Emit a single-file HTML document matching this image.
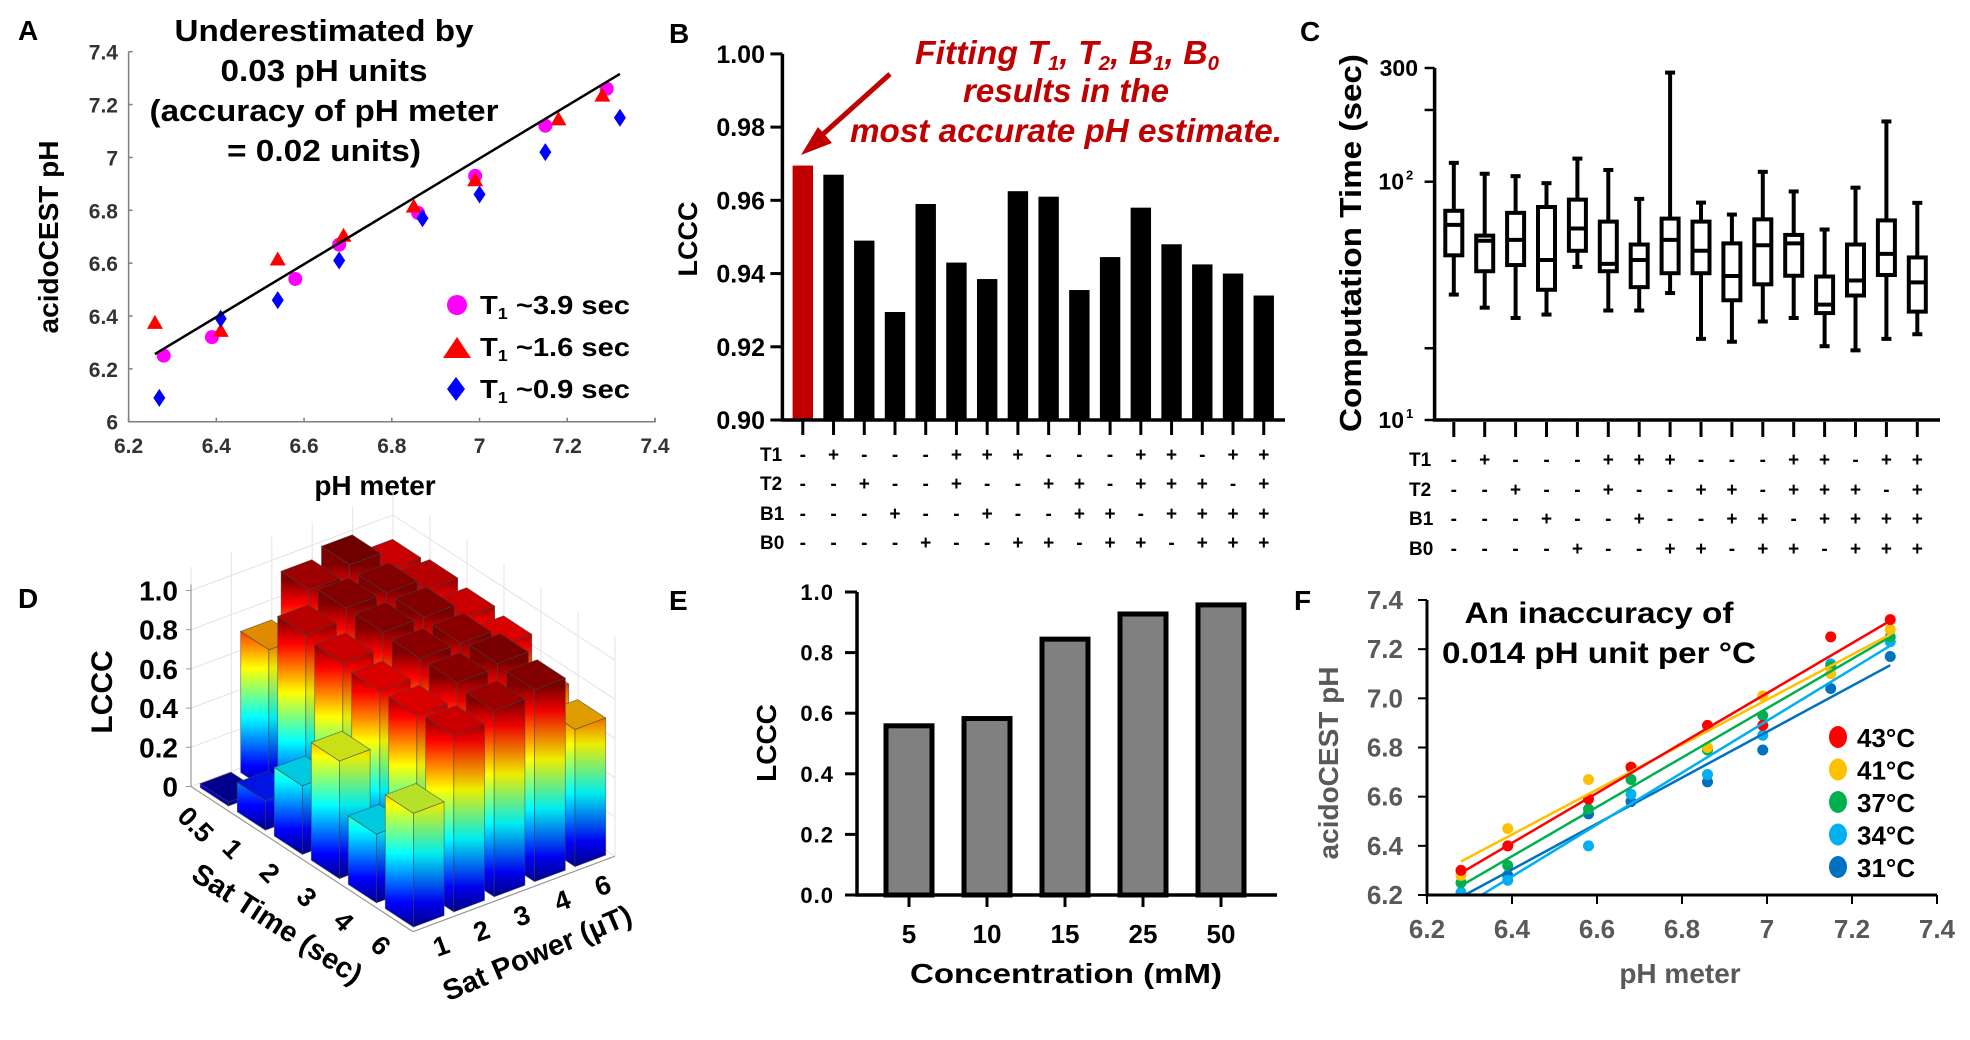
<!DOCTYPE html>
<html><head><meta charset="utf-8"><style>
html,body{margin:0;padding:0;background:#fff;}
svg{display:block;font-family:"Liberation Sans",Arial,sans-serif;}
text{font-weight:bold;}
</style></head><body>
<svg id="fig" width="1970" height="1040" viewBox="0 0 1970 1040" xmlns="http://www.w3.org/2000/svg">
<defs id="defs"></defs>
<text x="18" y="40" font-size="28">A</text>
<text x="669" y="43" font-size="28">B</text>
<text x="1300" y="41" font-size="28">C</text>
<text x="18" y="608" font-size="28">D</text>
<text x="669" y="610" font-size="28">E</text>
<text x="1294" y="610" font-size="28">F</text>

<g font-size="31" text-anchor="middle" fill="#000">
<text x="324" y="41" textLength="299" lengthAdjust="spacingAndGlyphs">Underestimated by</text>
<text x="324" y="81" textLength="207" lengthAdjust="spacingAndGlyphs">0.03 pH units</text>
<text x="324" y="121" textLength="349" lengthAdjust="spacingAndGlyphs">(accuracy of pH meter</text>
<text x="324" y="161" textLength="194" lengthAdjust="spacingAndGlyphs">= 0.02 units)</text>
</g>
<text x="375" y="495" font-size="28" text-anchor="middle">pH meter</text>
<text transform="translate(58,237) rotate(-90)" font-size="28" text-anchor="middle">acidoCEST pH</text>
<g font-size="26">
<circle cx="457" cy="305" r="10" fill="#ff00ff"/>
<text x="480" y="314" textLength="150" lengthAdjust="spacingAndGlyphs">T<tspan dy="5" font-size="16">1</tspan><tspan dy="-5"> ~3.9 sec</tspan></text>
<polygon points="457,337 471,358 443,358" fill="#ff0000"/>
<text x="480" y="356" textLength="150" lengthAdjust="spacingAndGlyphs">T<tspan dy="5" font-size="16">1</tspan><tspan dy="-5"> ~1.6 sec</tspan></text>
<polygon points="456,377 465,389 456,401 447,389" fill="#0000ff"/>
<text x="480" y="398" textLength="150" lengthAdjust="spacingAndGlyphs">T<tspan dy="5" font-size="16">1</tspan><tspan dy="-5"> ~0.9 sec</tspan></text>
</g>

<g fill="#c00000" font-style="italic" font-size="33" text-anchor="middle">
<text x="1067" y="64" textLength="304" lengthAdjust="spacingAndGlyphs">Fitting T<tspan dy="6" font-size="20">1</tspan><tspan dy="-6">, T</tspan><tspan dy="6" font-size="20">2</tspan><tspan dy="-6">, B</tspan><tspan dy="6" font-size="20">1</tspan><tspan dy="-6">, B</tspan><tspan dy="6" font-size="20">0</tspan></text>
<text x="1066" y="102" textLength="206" lengthAdjust="spacingAndGlyphs">results in the</text>
<text x="1066" y="142" textLength="432" lengthAdjust="spacingAndGlyphs">most accurate pH estimate.</text>
</g>
<g>
<line x1="890" y1="74" x2="812" y2="144" stroke="#c00000" stroke-width="5"/>
<polygon points="801,155 818,127 832,143" fill="#c00000"/>
</g>
<text transform="translate(697,239) rotate(-90)" font-size="27" text-anchor="middle">LCCC</text>

<text transform="translate(1361,243) rotate(-90)" font-size="31" text-anchor="middle" textLength="378" lengthAdjust="spacingAndGlyphs">Computation Time (sec)</text>

<text transform="translate(112,692) rotate(-90)" font-size="30" text-anchor="middle">LCCC</text>
<text transform="translate(272,932) rotate(33)" font-size="29" text-anchor="middle">Sat Time (sec)</text>
<text transform="translate(541,962) rotate(-23)" font-size="29" text-anchor="middle">Sat Power (µT)</text>

<text x="1066" y="983" font-size="28" text-anchor="middle" textLength="312" lengthAdjust="spacingAndGlyphs">Concentration (mM)</text>
<text transform="translate(776,743) rotate(-90)" font-size="28" text-anchor="middle">LCCC</text>

<g font-size="30" text-anchor="middle">
<text x="1599" y="623" textLength="269" lengthAdjust="spacingAndGlyphs">An inaccuracy of</text>
<text x="1599" y="663" textLength="314" lengthAdjust="spacingAndGlyphs">0.014 pH unit per °C</text>
</g>
<text x="1680" y="983" font-size="28" text-anchor="middle" fill="#595959">pH meter</text>
<text transform="translate(1338,763) rotate(-90)" font-size="28" text-anchor="middle" fill="#595959">acidoCEST pH</text>

<g id="gA"></g><g id="gB"></g><g id="gC"></g><g id="gD"></g><g id="gE"></g><g id="gF"></g>
</svg>
<script>
// ---------- DATA ----------
const aXTicks = [6.2, 6.4, 6.6, 6.8, 7.0, 7.2, 7.4];
const aXTickLabels = ['6.2', '6.4', '6.6', '6.8', '7', '7.2', '7.4'];
const aYTicks = [6.0, 6.2, 6.4, 6.6, 6.8, 7.0, 7.2, 7.4];
const aYTickLabels = ['6', '6.2', '6.4', '6.6', '6.8', '7', '7.2', '7.4'];
const aCircX = [6.28, 6.39, 6.58, 6.68, 6.86, 6.99, 7.15, 7.29];
const aCircY = [6.25, 6.32, 6.54, 6.67, 6.79, 6.93, 7.12, 7.26];
const aTriX = [6.26, 6.41, 6.54, 6.69, 6.85, 6.99, 7.18, 7.28];
const aTriY = [6.37, 6.34, 6.61, 6.70, 6.81, 6.91, 7.14, 7.23];
const aDiaX = [6.27, 6.41, 6.54, 6.68, 6.87, 7.00, 7.15, 7.32];
const aDiaY = [6.09, 6.39, 6.46, 6.61, 6.77, 6.86, 7.02, 7.15];
const aFitX = [6.26, 7.32];
const aFitY = [6.256, 7.316];
const bValues = [0.9695, 0.967, 0.949, 0.9295, 0.959, 0.943, 0.9385, 0.9625, 0.961, 0.9355, 0.9445, 0.958, 0.948, 0.9425, 0.940, 0.934];
const bYTicks = [0.90, 0.92, 0.94, 0.96, 0.98, 1.00];
const bYTickLabels = ['0.90', '0.92', '0.94', '0.96', '0.98', '1.00'];
const rowNames = ['T1', 'T2', 'B1', 'B0'];
const rowT1 = ['-', '+', '-', '-', '-', '+', '+', '+', '-', '-', '-', '+', '+', '-', '+', '+'];
const rowT2 = ['-', '-', '+', '-', '-', '+', '-', '-', '+', '+', '-', '+', '+', '+', '-', '+'];
const rowB1 = ['-', '-', '-', '+', '-', '-', '+', '-', '-', '+', '+', '-', '+', '+', '+', '+'];
const rowB0 = ['-', '-', '-', '-', '+', '-', '-', '+', '+', '-', '+', '+', '-', '+', '+', '+'];
const cWhiskerHigh = [120, 108, 105.5, 98.6, 125, 112, 84.7, 287, 81.7, 72.8, 110, 91, 63, 94.4, 179, 81.5];
const cQ3 = [75.5, 59.4, 74, 78.3, 84.1, 68, 54.5, 70, 68, 55.1, 69.5, 59.8, 40, 54.5, 68.8, 48.1];
const cMedian = [65.9, 56.5, 57, 46.9, 63.6, 45.2, 46.9, 57, 51.3, 40.2, 54.1, 55.1, 30.5, 38.5, 49.8, 37.8];
const cQ1 = [49.1, 42.1, 44.7, 35.2, 51.3, 42.1, 36.1, 41.3, 41.3, 31.8, 37.1, 40.3, 28.1, 33.3, 40.6, 28.5];
const cWhiskerLow = [33.6, 29.6, 26.8, 27.7, 43.9, 28.8, 28.8, 34.1, 21.9, 21.3, 25.9, 26.8, 20.4, 19.6, 21.9, 22.9];
const dSatTimes = ['0.5', '1', '2', '3', '4', '6'];
const dSatPowers = ['1', '2', '3', '4', '6'];
const dZTicks = [0, 0.2, 0.4, 0.6, 0.8, 1.0];
const dZTickLabels = ['0', '0.2', '0.4', '0.6', '0.8', '1.0'];
const dT05 = [0.02, 0.72, 0.95, 1.00, 0.90];
const dT1 = [0.15, 0.92, 0.98, 0.98, 0.92];
const dT2 = [0.35, 0.90, 0.98, 0.98, 0.90];
const dT3 = [0.60, 0.88, 0.97, 0.97, 0.88];
const dT4 = [0.35, 0.88, 0.97, 0.99, 0.75];
const dT6 = [0.58, 0.90, 0.95, 0.98, 0.70];
const eCategories = ['5', '10', '15', '25', '50'];
const eValues = [0.565, 0.589, 0.851, 0.934, 0.964];
const eYTicks = [0, 0.2, 0.4, 0.6, 0.8, 1.0];
const eYTickLabels = ['0.0', '0.2', '0.4', '0.6', '0.8', '1.0'];
const fXTicks = [6.2, 6.4, 6.6, 6.8, 7.0, 7.2, 7.4];
const fXTickLabels = ['6.2', '6.4', '6.6', '6.8', '7', '7.2', '7.4'];
const fYTicks = [6.2, 6.4, 6.6, 6.8, 7.0, 7.2, 7.4];
const fYTickLabels = ['6.2', '6.4', '6.6', '6.8', '7.0', '7.2', '7.4'];
const fPhMeter = [6.28, 6.39, 6.58, 6.68, 6.86, 6.99, 7.15, 7.29];
const f43 = [6.30, 6.40, 6.59, 6.72, 6.89, 6.89, 7.25, 7.32];
const f41 = [6.28, 6.47, 6.67, 6.72, 6.80, 7.01, 7.10, 7.28];
const f37 = [6.25, 6.32, 6.55, 6.67, 6.79, 6.93, 7.13, 7.25];
const f34 = [6.21, 6.26, 6.40, 6.61, 6.69, 6.85, 7.14, 7.23];
const f31 = [6.20, 6.28, 6.53, 6.58, 6.66, 6.79, 7.04, 7.17];
const fLegend = ['43°C', '41°C', '37°C', '34°C', '31°C'];

// ---------- HELPERS ----------
const NS = 'http://www.w3.org/2000/svg';
function mk(parent, tag, attrs) {
  const e = document.createElementNS(NS, tag);
  for (const k in attrs) e.setAttribute(k, attrs[k]);
  parent.appendChild(e);
  return e;
}
function nm(e, name) {
  
  
  return e;
}
function tx(parent, x, y, s, attrs) {
  const e = mk(parent, 'text', Object.assign({x: x, y: y}, attrs || {}));
  e.textContent = s;
  return e;
}
const defs = document.getElementById('defs');

// ---------- PANEL A ----------
(function () {
  const g = document.getElementById('gA');
  const ax = v => 128.6 + (v - 6.2) / 1.2 * 526.4;
  const ay = v => 421.7 - (v - 6.0) / 1.4 * 370;
  nm(mk(g, 'path', {d: `M${ax(6.2)},${ay(7.4)} V${ay(6)} H${ax(7.4)} V${ay(6)-4}`, stroke: '#7f7f7f', 'stroke-width': 1.5, fill: 'none'}), 'a-axes');
  aXTicks.forEach((v, i) => {
    nm(mk(g, 'line', {x1: ax(v), x2: ax(v), y1: ay(6), y2: ay(6) - 4, stroke: '#7f7f7f', 'stroke-width': 1.5}), 'a-x-tick');
    nm(tx(g, ax(v), 453, aXTickLabels[i], {'font-size': 21, 'text-anchor': 'middle', fill: '#333'}), 'a-x-tick-label');
  });
  aYTicks.forEach((v, i) => {
    nm(mk(g, 'line', {x1: ax(6.2), x2: ax(6.2) + 4, y1: ay(v), y2: ay(v), stroke: '#7f7f7f', 'stroke-width': 1.5}), 'a-y-tick');
    nm(tx(g, 118, ay(v) + 8, aYTickLabels[i], {'font-size': 21, 'text-anchor': 'end', fill: '#333'}), 'a-y-tick-label');
  });
  aCircX.forEach((x, i) => {
    nm(mk(g, 'circle', {cx: ax(x), cy: ay(aCircY[i]), r: 7, fill: '#ff00ff'}), 'a-point-t1-3.9');
  });
  aTriX.forEach((x, i) => {
    const cx = ax(x), cy = ay(aTriY[i]);
    nm(mk(g, 'polygon', {points: `${cx},${cy-9} ${cx+8},${cy+5} ${cx-8},${cy+5}`, fill: '#ff0000'}), 'a-point-t1-1.6');
  });
  aDiaX.forEach((x, i) => {
    const cx = ax(x), cy = ay(aDiaY[i]);
    nm(mk(g, 'polygon', {points: `${cx},${cy-9} ${cx+6},${cy} ${cx},${cy+9} ${cx-6},${cy}`, fill: '#0000ff'}), 'a-point-t1-0.9');
  });
  nm(mk(g, 'line', {x1: ax(aFitX[0]), y1: ay(aFitY[0]), x2: ax(aFitX[1]), y2: ay(aFitY[1]), stroke: '#000', 'stroke-width': 2.5}), 'a-fit-line');
})();

// ---------- PANEL B ----------
(function () {
  const g = document.getElementById('gB');
  const x0 = 782.4, step = 30.73, first = 802.8;
  const bx = i => first + i * step;
  const by = v => 420 - (v - 0.9) / 0.1 * 366.1;
  bValues.forEach((v, i) => {
    nm(mk(g, 'rect', {x: bx(i) - 10.2, y: by(v), width: 20.4, height: by(0.9) - by(v), fill: i === 0 ? '#c00000' : '#000'}), 'b-bar-' + (i + 1));
    nm(mk(g, 'line', {x1: bx(i), x2: bx(i), y1: 420, y2: 435, stroke: '#000', 'stroke-width': 3}), 'b-x-tick');
  });
  nm(mk(g, 'path', {d: `M${x0},${by(1.0)} V${by(0.9)} H1285`, stroke: '#000', 'stroke-width': 3.5, fill: 'none'}), 'b-axes');
  bYTicks.forEach((v, i) => {
    nm(mk(g, 'line', {x1: x0 - 12, x2: x0, y1: by(v), y2: by(v), stroke: '#000', 'stroke-width': 3}), 'b-y-tick');
    nm(tx(g, 765, by(v) + 9, bYTickLabels[i], {'font-size': 25, 'text-anchor': 'end'}), 'b-y-tick-label');
  });
  const rows = [rowT1, rowT2, rowB1, rowB0];
  const ry = [461, 490, 520, 549];
  rows.forEach((row, r) => {
    nm(tx(g, 760, ry[r], rowNames[r], {'font-size': 19}), 'b-row-label-' + rowNames[r].toLowerCase());
    row.forEach((s, i) => {
      nm(tx(g, bx(i), ry[r], s, {'font-size': 19, 'text-anchor': 'middle'}), 'b-row-symbol');
    });
  });
})();

// ---------- PANEL C ----------
(function () {
  const g = document.getElementById('gC');
  const x0 = 1434.6, first = 1453.8, step = 30.9;
  const cx = i => first + i * step;
  const cy = v => 420 - (Math.log10(v) - 1) / Math.log10(30) * 352;
  nm(mk(g, 'path', {d: `M${x0},${cy(300)} V${cy(10)} H1940`, stroke: '#000', 'stroke-width': 3.5, fill: 'none'}), 'c-axes');
  [300, 200, 100, 20, 10].forEach(v => {
    nm(mk(g, 'line', {x1: x0 - 10, x2: x0, y1: cy(v), y2: cy(v), stroke: '#000', 'stroke-width': 2.5}), 'c-y-tick');
  });
  nm(tx(g, 1418, cy(300) + 8, '300', {'font-size': 23, 'text-anchor': 'end'}), 'c-y-tick-label');
  nm(tx(g, 1404, cy(100) + 8, '10', {'font-size': 23, 'text-anchor': 'end'}), 'c-y-tick-label');
  nm(tx(g, 1406, cy(100) - 2, '2', {'font-size': 13, 'font-weight': 'normal'}), 'c-y-tick-exp');
  nm(tx(g, 1404, cy(10) + 8, '10', {'font-size': 23, 'text-anchor': 'end'}), 'c-y-tick-label');
  nm(tx(g, 1406, cy(10) - 2, '1', {'font-size': 13, 'font-weight': 'normal'}), 'c-y-tick-exp');
  cMedian.forEach((m, i) => {
    const x = cx(i);
    const b = nm(mk(g, 'g', {stroke: '#000', 'stroke-width': 4, fill: 'none'}), 'c-box-' + (i + 1));
    mk(b, 'line', {x1: x, x2: x, y1: cy(cWhiskerHigh[i]), y2: cy(cQ3[i])});
    mk(b, 'line', {x1: x, x2: x, y1: cy(cQ1[i]), y2: cy(cWhiskerLow[i])});
    mk(b, 'line', {x1: x - 5, x2: x + 5, y1: cy(cWhiskerHigh[i]), y2: cy(cWhiskerHigh[i])});
    mk(b, 'line', {x1: x - 5, x2: x + 5, y1: cy(cWhiskerLow[i]), y2: cy(cWhiskerLow[i])});
    mk(b, 'rect', {x: x - 8.5, y: cy(cQ3[i]), width: 17, height: cy(cQ1[i]) - cy(cQ3[i]), fill: '#fff'});
    mk(b, 'line', {x1: x - 8.5, x2: x + 8.5, y1: cy(m), y2: cy(m)});
    nm(mk(g, 'line', {x1: x, x2: x, y1: 422, y2: 437, stroke: '#000', 'stroke-width': 3}), 'c-x-tick');
  });
  const rows = [rowT1, rowT2, rowB1, rowB0];
  const ry = [466, 496, 525, 555];
  rows.forEach((row, r) => {
    nm(tx(g, 1409, ry[r], rowNames[r], {'font-size': 19}), 'c-row-label-' + rowNames[r].toLowerCase());
    row.forEach((s, i) => {
      nm(tx(g, cx(i), ry[r], s, {'font-size': 19, 'text-anchor': 'middle'}), 'c-row-symbol');
    });
  });
})();

// ---------- PANEL D ----------
(function () {
  const g = document.getElementById('gD');
  const O = [191, 786.5], T = [37, 24.2], P = [40.4, -15.1], Z = 196;
  const pt = (t, p) => [O[0] + t * T[0] + p * P[0], O[1] + t * T[1] + p * P[1]];
  const back = pt(0, 5);
  const grid = nm(mk(g, 'g', {stroke: '#e3e3e3', 'stroke-width': 1, fill: 'none'}), 'd-grid');
  dZTicks.forEach(z => {
    mk(grid, 'polyline', {points: `${O[0]},${O[1]-z*Z} ${back[0]},${back[1]-z*Z} ${pt(6,5)[0]},${pt(6,5)[1]-z*Z}`});
  });
  for (let j = 0; j <= 5; j++) { const q = pt(0, j); mk(grid, 'line', {x1: q[0], y1: q[1], x2: q[0], y2: q[1] - Z * 1.12}); }
  for (let i = 0; i <= 6; i++) { const q = pt(i, 5); mk(grid, 'line', {x1: q[0], y1: q[1], x2: q[0], y2: q[1] - Z * 1.12}); }
  nm(mk(g, 'line', {x1: O[0], y1: O[1], x2: O[0], y2: O[1] - Z * 1.03, stroke: '#999', 'stroke-width': 1.2}), 'd-z-axis');
  nm(mk(g, 'line', {x1: O[0], y1: O[1], x2: pt(6, 0)[0], y2: pt(6, 0)[1], stroke: '#999', 'stroke-width': 1.2}), 'd-time-axis');
  nm(mk(g, 'line', {x1: pt(6, 0)[0], y1: pt(6, 0)[1], x2: pt(6, 5)[0], y2: pt(6, 5)[1], stroke: '#999', 'stroke-width': 1.2}), 'd-power-axis');
  dZTicks.forEach((z, i) => {
    nm(mk(g, 'line', {x1: O[0] - 5, x2: O[0], y1: O[1] - z * Z, y2: O[1] - z * Z, stroke: '#999'}), 'd-z-tick');
    nm(tx(g, 178, O[1] - z * Z + 10, dZTickLabels[i], {'font-size': 28, 'text-anchor': 'end'}), 'd-z-tick-label');
  });
  dSatTimes.forEach((s, i) => {
    const q = pt(i + 0.5, 0);
    nm(tx(g, 0, 0, s, {'font-size': 27, 'text-anchor': 'middle', 'dominant-baseline': 'central', transform: `translate(${q[0] - 14},${q[1] + 26}) rotate(45)`}), 'd-time-tick-label');
  });
  dSatPowers.forEach((s, j) => {
    const q = pt(6, j + 0.5);
    nm(tx(g, 0, 0, s, {'font-size': 27, 'text-anchor': 'middle', 'dominant-baseline': 'central', transform: `translate(${q[0] + 8},${q[1] + 22}) rotate(-20)`}), 'd-power-tick-label');
  });
  const jetStops = [[0, '#00008f'], [0.125, '#0000ff'], [0.375, '#00ffff'], [0.625, '#ffff00'], [0.875, '#ff0000'], [1, '#800000']];
  function hex2(h) { return [1, 3, 5].map(k => parseInt(h.substr(k, 2), 16)); }
  function jet(v) {
    for (let k = 1; k < jetStops.length; k++) {
      if (v <= jetStops[k][0]) {
        const a = jetStops[k - 1], b = jetStops[k], f = (v - a[0]) / (b[0] - a[0]);
        const ca = hex2(a[1]), cb = hex2(b[1]);
        return 'rgb(' + ca.map((c, m) => Math.round(c + (cb[m] - c) * f)).join(',') + ')';
      }
    }
    return '#800000';
  }
  const dRows = [dT05, dT1, dT2, dT3, dT4, dT6];
  const cells = [];
  dRows.forEach((row, i) => row.forEach((v, j) => cells.push([i, j, v])));
  cells.sort((a, b) => (a[0] - a[1]) - (b[0] - b[1]));
  const h = 0.38;
  let gid = 0;
  cells.forEach(([i, j, v]) => {
    const ti = i + 0.5, pj = j + 0.5;
    const A = pt(ti - h, pj - h), B = pt(ti + h, pj - h), C = pt(ti + h, pj + h), D = pt(ti - h, pj + h);
    const H = v * Z;
    const id = 'jg' + (gid++);
    const lg = mk(defs, 'linearGradient', {id: id, gradientUnits: 'userSpaceOnUse', x1: 0, x2: 0, y1: B[1], y2: B[1] - Z});
    jetStops.forEach(s => mk(lg, 'stop', {offset: s[0], 'stop-color': s[1]}));
    const bar = nm(mk(g, 'g', {stroke: '#444', 'stroke-width': 0.8, 'stroke-opacity': 0.6}), `d-bar-t${dSatTimes[i]}-p${dSatPowers[j]}`);
    mk(bar, 'polygon', {points: `${A[0]},${A[1]} ${B[0]},${B[1]} ${B[0]},${B[1]-H} ${A[0]},${A[1]-H}`, fill: `url(#${id})`});
    mk(bar, 'polygon', {points: `${B[0]},${B[1]} ${C[0]},${C[1]} ${C[0]},${C[1]-H} ${B[0]},${B[1]-H}`, fill: `url(#${id})`});
    mk(bar, 'polygon', {points: `${B[0]},${B[1]} ${C[0]},${C[1]} ${C[0]},${C[1]-H} ${B[0]},${B[1]-H}`, fill: '#000', 'fill-opacity': 0.07, stroke: 'none'});
    mk(bar, 'polygon', {points: `${A[0]},${A[1]-H} ${B[0]},${B[1]-H} ${C[0]},${C[1]-H} ${D[0]},${D[1]-H}`, fill: jet(v)});
    mk(bar, 'polygon', {points: `${A[0]},${A[1]-H} ${B[0]},${B[1]-H} ${C[0]},${C[1]-H} ${D[0]},${D[1]-H}`, fill: '#000', 'fill-opacity': 0.12, stroke: 'none'});
  });
})();

// ---------- PANEL E ----------
(function () {
  const g = document.getElementById('gE');
  const x0 = 857, first = 909, step = 78;
  const ex = i => first + i * step;
  const ey = v => 895 - v * 303;
  eValues.forEach((v, i) => {
    nm(mk(g, 'rect', {x: ex(i) - 23, y: ey(v) + 2, width: 46, height: ey(0) - ey(v) - 2, fill: '#808080', stroke: '#000', 'stroke-width': 5}), 'e-bar-' + eCategories[i]);
    nm(mk(g, 'line', {x1: ex(i), x2: ex(i), y1: 895, y2: 907, stroke: '#000', 'stroke-width': 3}), 'e-x-tick');
    nm(tx(g, ex(i), 943, eCategories[i], {'font-size': 26, 'text-anchor': 'middle'}), 'e-x-tick-label');
  });
  nm(mk(g, 'path', {d: `M${x0},${ey(1)} V${ey(0)} H1277`, stroke: '#000', 'stroke-width': 3.5, fill: 'none'}), 'e-axes');
  eYTicks.forEach((v, i) => {
    nm(mk(g, 'line', {x1: x0 - 12, x2: x0, y1: ey(v), y2: ey(v), stroke: '#000', 'stroke-width': 3}), 'e-y-tick');
    nm(tx(g, 834, ey(v) + 8, eYTickLabels[i], {'font-size': 22, 'text-anchor': 'end', 'letter-spacing': 1}), 'e-y-tick-label');
  });
})();

// ---------- PANEL F ----------
(function () {
  const g = document.getElementById('gF');
  const fx = v => 1427 + (v - 6.2) / 1.2 * 510;
  const fy = v => 895 - (v - 6.2) / 1.2 * 295;
  fXTicks.forEach((v, i) => {
    nm(mk(g, 'line', {x1: fx(v), x2: fx(v), y1: 895, y2: 904, stroke: '#000', 'stroke-width': 2}), 'f-x-tick');
    nm(tx(g, fx(v), 938, fXTickLabels[i], {'font-size': 26, 'font-weight': 'normal', 'text-anchor': 'middle', fill: '#595959'}), 'f-x-tick-label');
  });
  fYTicks.forEach((v, i) => {
    nm(mk(g, 'line', {x1: 1418, x2: 1427, y1: fy(v), y2: fy(v), stroke: '#000', 'stroke-width': 2}), 'f-y-tick');
    nm(tx(g, 1403, fy(v) + 9, fYTickLabels[i], {'font-size': 26, 'font-weight': 'normal', 'text-anchor': 'end', fill: '#595959'}), 'f-y-tick-label');
  });
  const series = [f43, f41, f37, f34, f31];
  const colors = ['#ff0000', '#ffc000', '#00b050', '#00b0f0', '#0070c0'];
  const clip = mk(defs, 'clipPath', {id: 'fclip'});
  mk(clip, 'rect', {x: 1427, y: 590, width: 515, height: 305});
  const drawOrder = [4, 3, 2, 1, 0];
  drawOrder.forEach(s => {
    const ys = series[s];
    ys.forEach((y, i) => {
      nm(mk(g, 'circle', {cx: fx(fPhMeter[i]), cy: fy(y), r: 5.5, fill: colors[s], 'clip-path': 'url(#fclip)'}), 'f-point-' + fLegend[s]);
    });
  });
  drawOrder.forEach(s => {
    const ys = series[s], n = ys.length;
    const mx = fPhMeter.reduce((a, b) => a + b) / n, my = ys.reduce((a, b) => a + b) / n;
    let sxy = 0, sxx = 0;
    fPhMeter.forEach((x, i) => { sxy += (x - mx) * (ys[i] - my); sxx += (x - mx) * (x - mx); });
    const k = sxy / sxx, b0 = my - k * mx;
    const xa = fPhMeter[0], xb = fPhMeter[n - 1];
    nm(mk(g, 'line', {x1: fx(xa), y1: fy(k * xa + b0), x2: fx(xb), y2: fy(k * xb + b0), stroke: colors[s], 'stroke-width': 2.5, 'clip-path': 'url(#fclip)'}), 'f-fit-line-' + fLegend[s]);
  });
  nm(mk(g, 'path', {d: `M${fx(6.2)},${fy(7.4)} V${fy(6.2)} H${fx(7.4)}`, stroke: '#000', 'stroke-width': 3, fill: 'none'}), 'f-axes');
  fLegend.forEach((s, i) => {
    const ly = 737 + i * 32.5;
    nm(mk(g, 'ellipse', {cx: 1838, cy: ly, rx: 9, ry: 11, fill: colors[i]}), 'f-legend-marker');
    nm(tx(g, 1857, ly + 10, s, {'font-size': 26}), 'f-legend-entry');
  });
})();
</script>
</body></html>
